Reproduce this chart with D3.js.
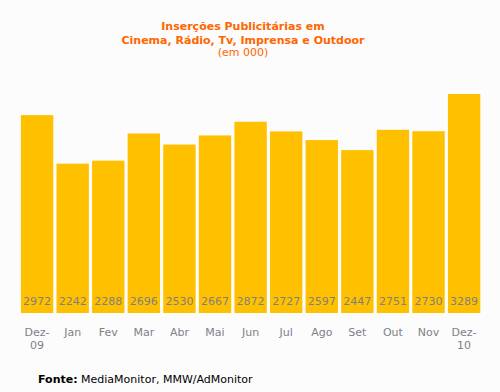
<!DOCTYPE html>
<html>
<head>
<meta charset="utf-8">
<script src="https://cdn.jsdelivr.net/npm/d3@7"></script>
<style>
  body { margin: 0; background: #fcfcfc; }
  text { font-family: Verdana, "DejaVu Sans", sans-serif; }
</style>
</head>
<body>
<div id="chart"></div>
<script>
// data
var months = ["Dez-09", "Jan", "Fev", "Mar", "Abr", "Mai", "Jun", "Jul", "Ago", "Set", "Out", "Nov", "Dez-10"];
var values = [2972, 2242, 2288, 2696, 2530, 2667, 2872, 2727, 2597, 2447, 2751, 2730, 3289];
var titleLines = ["Inserções Publicitárias em", "Cinema, Rádio, Tv, Imprensa e Outdoor"];
var subtitle = "(em 000)";

var width = 500, height = 392;

var svg = d3.select("#chart")
  .append("svg")
    .attr("width", width)
    .attr("height", height);

svg.append("rect")
  .attr("width", width)
  .attr("height", height)
  .attr("fill", "#fcfcfc");

var data = months.map(function(m, i) { return {month: m, value: values[i]}; });

// x: band scale over the months
var x = d3.scaleBand()
  .domain(months)
  .range([19.3, 481.9])
  .paddingInner(0.09)
  .paddingOuter(0.045);

// y: linear from zero
var y = d3.scaleLinear()
  .domain([0, 3289])
  .range([313, 94]);

// bars
svg.selectAll("rect.bar")
  .data(data)
  .enter()
  .append("rect")
    .attr("class", "bar")
    .attr("x", function(d) { return x(d.month); })
    .attr("y", function(d) { return y(d.value); })
    .attr("width", x.bandwidth())
    .attr("height", function(d) { return y(0) - y(d.value); })
    .attr("fill", "#ffc000");

// value labels inside bars, near the bottom
svg.selectAll("text.val")
  .data(data)
  .enter()
  .append("text")
    .attr("class", "val")
    .attr("x", function(d) { return x(d.month) + x.bandwidth() / 2; })
    .attr("y", 305)
    .attr("text-anchor", "middle")
    .style("font-size", "11px")
    .style("fill", "#808080")
    .text(function(d) { return d.value; });

// month labels, split "Dez-09" into two lines
var xl = svg.selectAll("text.month")
  .data(data)
  .enter()
  .append("text")
    .attr("class", "month")
    .attr("text-anchor", "middle")
    .style("font-size", "11px")
    .style("fill", "#80808a");

xl.each(function(d) {
  var parts = d.month.indexOf("-") > 0 ? [d.month.split("-")[0] + "-", d.month.split("-")[1]] : [d.month];
  var t = d3.select(this);
  parts.forEach(function(p, i) {
    t.append("tspan")
      .attr("x", x(d.month) + x.bandwidth() / 2)
      .attr("y", 336 + i * 12.5)
      .text(p);
  });
});

// title
svg.selectAll("text.title")
  .data(titleLines)
  .enter()
  .append("text")
    .attr("class", "title")
    .attr("x", 243)
    .attr("y", function(d, i) { return 30 + i * 13.5; })
    .attr("text-anchor", "middle")
    .style("font-size", "11px")
    .style("font-weight", "bold")
    .style("fill", "#ff6600")
    .text(function(d) { return d; });

svg.append("text")
  .attr("x", 243)
  .attr("y", 56)
  .attr("text-anchor", "middle")
  .style("font-size", "11px")
  .style("fill", "#ff6600")
  .text(subtitle);

// source
var src = svg.append("text")
  .attr("x", 38)
  .attr("y", 383)
  .style("font-size", "11px")
  .style("fill", "#000");
src.append("tspan").style("font-weight", "bold").text("Fonte:");
src.append("tspan").text(" MediaMonitor, MMW/AdMonitor");
</script>
</body>
</html>
